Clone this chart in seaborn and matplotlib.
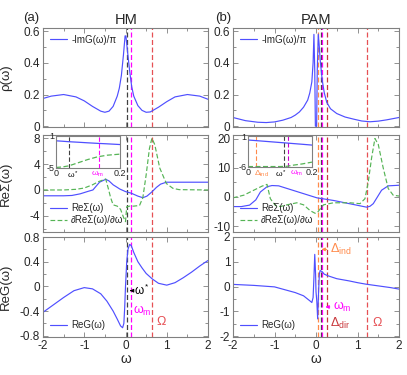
import numpy as np
import pandas as pd
import matplotlib
matplotlib.use("Agg")
import matplotlib.pyplot as plt
import seaborn as sns
from matplotlib.ticker import MultipleLocator

# ---------------- data ----------------
# HM: spectral function
hm_rho_w = [-2.0, -1.8, -1.5, -1.2, -1.0, -0.8, -0.6, -0.5, -0.4, -0.3, -0.2, -0.15, -0.1, -0.05,
            -0.01, 0.01, 0.05, 0.1, 0.15, 0.2, 0.3, 0.4, 0.5, 0.6, 0.8, 1.0, 1.2, 1.5, 1.8, 2.0]
hm_rho = [0.175, 0.19, 0.2, 0.185, 0.16, 0.125, 0.095, 0.088, 0.095, 0.125, 0.19, 0.24, 0.32, 0.45,
          0.57, 0.57, 0.47, 0.35, 0.25, 0.19, 0.13, 0.10, 0.088, 0.09, 0.12, 0.155, 0.185, 0.2, 0.19, 0.17]

# PAM: spectral function
pam_rho_w = [-2.0, -1.7, -1.4, -1.2, -1.0, -0.8, -0.6, -0.5, -0.4, -0.3, -0.2, -0.15, -0.1, -0.07,
             -0.05, -0.03, -0.015, 0.015, 0.03, 0.055, 0.08, 0.1, 0.15, 0.2, 0.26, 0.35, 0.5, 0.7,
             0.9, 1.1, 1.3, 1.5, 1.7, 2.0]
pam_rho = [0.055, 0.035, 0.025, 0.023, 0.027, 0.038, 0.055, 0.07, 0.09, 0.12, 0.165, 0.21, 0.28, 0.4,
           0.58, 0.35, 0.0, 0.0, 0.35, 0.58, 0.5, 0.42, 0.29, 0.21, 0.15, 0.11, 0.08, 0.058,
           0.045, 0.033, 0.028, 0.032, 0.04, 0.055]

# HM: self energy and its derivative
hm_sig_w = [-2.0, -1.5, -1.3, -1.1, -0.9, -0.79, -0.63, -0.48, -0.4, -0.3, -0.2, -0.14, 0.0, 0.14,
            0.3, 0.42, 0.52, 0.64, 0.75, 0.85, 0.99, 1.1, 1.3, 2.0]
hm_sig = [-0.9, -0.9, -0.85, -0.6, -0.2, 0.0, 1.2, 1.65, 1.4, 0.8, 0.4, 0.15, -0.25, -0.5,
          -0.95, -1.2, -0.95, -0.3, 0.4, 0.9, 1.2, 1.2, 1.2, 1.2]
hm_dsig_w = [-2.0, -1.5, -1.2, -1.0, -0.8, -0.65, -0.48, -0.42, -0.36, -0.3, -0.2, -0.12, -0.05, 0.0,
             0.03, 0.1, 0.2, 0.34, 0.42, 0.5, 0.58, 0.64, 0.71, 0.83, 0.99, 1.15, 1.3, 2.0]
hm_dsig = [0.0, 0.0, 0.1, 0.3, 0.8, 1.3, 1.7, 0.3, -1.2, -2.3, -2.5, -3.0, -4.2, -4.9,
           -2.6, -2.5, -2.5, -2.4, -1.2, 2.3, 6.4, 8.0, 7.0, 3.4, 1.0, 0.25, 0.05, 0.0]

# PAM: self energy and its derivative
pam_sig_w = [-2.0, -1.8, -1.6, -1.45, -1.34, -1.18, -1.06, -0.9, 0.02, 0.42, 1.22, 1.3, 1.38, 1.48,
             1.58, 1.74, 2.0]
pam_sig = [-3.3, -3.3, -2.8, -1.0, 1.7, 3.5, 3.9, 3.8, -0.3, -1.2, -3.5, -3.2, -2.3, 0.0,
           2.3, 3.8, 4.0]
pam_dsig_w = [-2.0, -1.74, -1.5, -1.3, -1.18, -1.1, -0.98, -0.86, -0.7, -0.46, -0.3, -0.14, -0.02,
              0.04, 0.18, 0.42, 0.82, 1.06, 1.18, 1.26, 1.34, 1.42, 1.5, 1.62, 1.74, 1.86, 2.0]
pam_dsig = [-0.3, 0.6, 2.3, 3.7, 4.3, -0.6, -2.9, -3.3, -2.7, -2.0, -2.7, -4.7, -5.6,
            -5.2, -2.7, -2.0, -2.0, -2.3, -0.6, 5.2, 13.4, 20.0, 18.0, 9.9, 2.9, 0.6, 0.3]

# HM: real part of Green function
hm_reg_w = [-2.0, -1.75, -1.5, -1.25, -1.0, -0.8, -0.6, -0.45, -0.3, -0.2, -0.12, -0.07, -0.04,
            -0.02, 0.0, 0.03, 0.06, 0.1, 0.14, 0.2, 0.3, 0.4, 0.5, 0.65, 0.8, 1.0, 1.2, 1.4, 1.6, 1.8, 2.0]
hm_reg = [-0.42, -0.3, -0.18, -0.07, -0.02, -0.04, -0.12, -0.24, -0.4, -0.53, -0.64, -0.67, -0.6,
          -0.35, 0.0, 0.4, 0.6, 0.68, 0.66, 0.55, 0.4, 0.3, 0.21, 0.12, 0.05, 0.02, 0.06, 0.14, 0.23, 0.33, 0.42]

# PAM: real part of Green function
pam_reg_w = [-2.0, -1.5, -1.0, -0.5, -0.3, -0.15, -0.1, -0.07, -0.05, -0.03, -0.01, 0.0, 0.02,
             0.04, 0.06, 0.08, 0.1, 0.15, 0.2, 0.3, 0.5, 0.8, 1.0, 1.2, 1.5, 1.8, 2.0]
pam_reg = [0.09, 0.05, -0.01, -0.24, -0.37, -0.57, -0.64, -0.44, 0.36, 1.3, 0.5, -0.2, -0.6,
           -1.3, -0.3, 0.5, 0.65, 0.6, 0.5, 0.43, 0.32, 0.23, 0.16, 0.1, 0.03, -0.04, -0.1]

# insets (0 <= w <= 0.2)
hm_in_w = [0.0, 0.02, 0.04, 0.07, 0.1, 0.13, 0.16, 0.2]
hm_in_sig = [0.1, 0.02, -0.07, -0.17, -0.28, -0.38, -0.47, -0.6]
hm_in_dsig = [-4.9, -4.8, -4.6, -4.0, -3.4, -2.9, -2.6, -2.4]
pam_in_w = [0.0, 0.03, 0.06, 0.1, 0.12, 0.14, 0.17, 0.2]
pam_in_sig = [0.1, -0.07, -0.24, -0.47, -0.58, -0.7, -0.87, -1.05]
pam_in_dsig = [-5.9, -5.9, -5.9, -5.9, -5.85, -5.6, -5.3, -4.9]

# characteristic energies
hm_wstar, hm_wm, hm_Omega = 0.04, 0.135, 0.64
pam_dind, pam_wstar, pam_wm, pam_ddir, pam_Omega = 0.045, 0.11, 0.14, 0.26, 1.24
pam_in_dind, pam_in_wstar, pam_in_wm = 0.026, 0.112, 0.125

# tick labels
x_ticks = [-2, -1, 0, 1, 2]
x_ticklabels = ["-2", "-1", "0", "1", "2"]
rho_ticks = [0, 0.2, 0.4, 0.6]
rho_ticklabels = ["0", "0.2", "0.4", "0.6"]
hm_sig_ticks = [-4, 0, 4, 8]
pam_sig_ticks = [-10, 0, 10, 20]
hm_reg_ticks = [-0.8, -0.4, 0, 0.4, 0.8]
hm_reg_ticklabels = ["-0.8", "-0.4", "0", "0.4", "0.8"]
pam_reg_ticks = [-2, -1, 0, 1, 2]

# ---------------- style ----------------
sns.set_theme(style="ticks")
plt.rcParams['font.family'] = ['Liberation Sans', 'DejaVu Sans']
plt.rcParams['mathtext.default'] = 'regular'

BLUE = "#4f4fff"
GREEN = "#55b455"
RED = "#e65055"
DRED = "#c8363a"
MAG = "#ff00ff"
ORANGE = "#ff8a4a"
GRAY = "#808080"
DASH = (0, (4, 2))

fig = plt.figure(figsize=(4.07, 3.75), dpi=100)
L = [43 / 407, 233 / 407]
W = [165 / 407, 166 / 407]
rows = [(1 - 127 / 375, 99 / 375), (1 - 232 / 375, 97 / 375), (1 - 337 / 375, 100 / 375)]
axes = [[fig.add_axes([L[c], rows[r][0], W[c], rows[r][1]]) for c in range(2)] for r in range(3)]


def style(ax, ylim, yticks, yticklabels, yminor, xlabels, fs=8.5):
    ax.set_xlim(-2, 2)
    ax.set_ylim(*ylim)
    ax.set_xticks(x_ticks)
    ax.set_xticklabels(x_ticklabels)
    ax.xaxis.set_minor_locator(MultipleLocator(0.5))
    ax.set_yticks(yticks)
    ax.set_yticklabels(yticklabels)
    ax.yaxis.set_minor_locator(MultipleLocator(yminor))
    ax.tick_params(which='both', direction='in', top=True, right=True, color=GRAY,
                   width=0.6, labelsize=fs, pad=2)
    ax.tick_params(which='major', length=3.5)
    ax.tick_params(which='minor', length=2)
    for s in ax.spines.values():
        s.set_color(GRAY)
        s.set_linewidth(0.8)
    if not xlabels:
        ax.tick_params(labelbottom=False)
    else:
        ax.set_xlabel("ω", fontsize=10, labelpad=0)


def vlines(ax, pos_cols):
    for p, c in pos_cols:
        ax.axvline(p, color=c, lw=0.9, linestyle=DASH)


hm_lines = [(hm_wstar, "#404040"), (hm_wm, MAG), (hm_Omega, RED)]
pam_lines = [(pam_dind, ORANGE), (pam_wstar, "#404040"), (pam_wm, MAG), (pam_ddir, DRED), (pam_Omega, RED)]

leg_kw = dict(frameon=False, fontsize=7, handlelength=1.8, handletextpad=0.4,
              borderaxespad=0.3, labelspacing=0.2)

# ---- row 1: rho ----
for ax, w, v, lines in [(axes[0][0], hm_rho_w, hm_rho, hm_lines),
                        (axes[0][1], pam_rho_w, pam_rho, pam_lines)]:
    vlines(ax, lines)
    sns.lineplot(x=w, y=v, ax=ax, color=BLUE, lw=0.85, sort=False, estimator=None,
                 label="-ImG(ω)/π")
    style(ax, (-0.005, 0.62), rho_ticks, rho_ticklabels, 0.1, False)
    ax.legend(loc="upper left", **leg_kw)

# ---- row 2: self energy ----
for ax, w1, v1, w2, v2, lines, yl, yt, ymn in [
        (axes[1][0], hm_sig_w, hm_sig, hm_dsig_w, hm_dsig, hm_lines, (-6.5, 8.5), hm_sig_ticks, 2),
        (axes[1][1], pam_sig_w, pam_sig, pam_dsig_w, pam_dsig, pam_lines, (-12, 21.2), pam_sig_ticks, 5)]:
    vlines(ax, lines)
    sns.lineplot(x=w1, y=v1, ax=ax, color=BLUE, lw=0.85, sort=False, estimator=None, label="ReΣ(ω)")
    sns.lineplot(x=w2, y=v2, ax=ax, color=GREEN, lw=0.85, linestyle=DASH, sort=False,
                 estimator=None, label="∂ReΣ(ω)/∂ω")
    style(ax, yl, yt, [str(t) for t in yt], ymn, False)
    ax.legend(loc="lower left", **leg_kw)

# ---- row 3: ReG ----
for ax, w, v, lines, yl, yt, ytl, ymn in [
        (axes[2][0], hm_reg_w, hm_reg, hm_lines, (-0.82, 0.8), hm_reg_ticks, hm_reg_ticklabels, 0.2),
        (axes[2][1], pam_reg_w, pam_reg, pam_lines, (-2.03, 2.0), pam_reg_ticks,
         [str(t) for t in pam_reg_ticks], 0.5)]:
    vlines(ax, lines)
    sns.lineplot(x=w, y=v, ax=ax, color=BLUE, lw=0.85, sort=False, estimator=None, label="ReG(ω)")
    style(ax, yl, yt, ytl, ymn, True)
    ax.legend(loc="lower left", **leg_kw)

# annotations, HM bottom
a = axes[2][0]
a.annotate("", xy=(hm_wstar, -0.07), xytext=(0.2, -0.07),
           arrowprops=dict(arrowstyle="-|>", color="black", lw=0.7, mutation_scale=5))
a.text(0.2, -0.07, "$\\omega^*$", fontsize=8.5, va="center", ha="left", color="black")
a.text(0.17, -0.4, "$\\omega_m$", fontsize=9, va="center", ha="left", color=MAG)
a.text(0.74, -0.58, "Ω", fontsize=9, va="center", ha="left", color=RED)

# annotations, PAM bottom
b = axes[2][1]
b.annotate("", xy=(pam_dind + 0.02, 1.5), xytext=(0.33, 1.5),
           arrowprops=dict(arrowstyle="-|>", color=ORANGE, lw=0.7, mutation_scale=5))
b.text(0.33, 1.5, "$\\Delta_{ind}$", fontsize=9, va="center", ha="left", color=ORANGE)
b.annotate("", xy=(pam_wm + 0.02, -0.82), xytext=(0.4, -0.82),
           arrowprops=dict(arrowstyle="-|>", color=MAG, lw=0.7, mutation_scale=5))
b.text(0.4, -0.82, "$\\omega_m$", fontsize=9, va="center", ha="left", color=MAG)
b.text(0.33, -1.48, "$\\Delta_{dir}$", fontsize=9, va="center", ha="left", color=DRED)
b.text(1.35, -1.48, "Ω", fontsize=9, va="center", ha="left", color=RED)

# y labels
for r, lab in enumerate(["ρ(ω)", "ReΣ(ω)", "ReG(ω)"]):
    axes[r][0].set_ylabel(lab, fontsize=9.5)
    axes[r][0].yaxis.set_label_coords(-0.19, 0.5)

# titles
fig.text(31 / 407, 1 - 18 / 375, "(a)", ha="center", va="center", fontsize=9.5)
fig.text(126 / 407, 1 - 20 / 375, "HM", ha="center", va="center", fontsize=10.5)
fig.text(223 / 407, 1 - 18 / 375, "(b)", ha="center", va="center", fontsize=9.5)
fig.text(316 / 407, 1 - 20 / 375, "PAM", ha="center", va="center", fontsize=10.5)

# ---- insets ----
ins_specs = [
    ([56 / 407, 1 - 168 / 375, 64 / 407, 32 / 375], hm_in_w, hm_in_sig, hm_in_dsig, (-5, 1),
     [(hm_wstar, "#404040"), (hm_wm, MAG)],
     [(0.053, "$\\omega^*$", "black"), (0.13, "$\\omega_m$", MAG)], ["-5", "1"]),
    ([248 / 407, 1 - 167 / 375, 64 / 407, 31 / 375], pam_in_w, pam_in_sig, pam_in_dsig, (-6, 1),
     [(pam_in_dind, ORANGE), (pam_in_wstar, "#404040"), (pam_in_wm, "#cc00cc")],
     [(0.042, "$\\Delta_{ind}$", ORANGE), (0.104, "$\\omega^*$", "black"),
      (0.152, "$\\omega_m$", MAG)], ["-6", "1"]),
]
for rect, w, s1, s2, yl, lines, lbls, ytl in ins_specs:
    ia = fig.add_axes(rect)
    for p, c in lines:
        ia.axvline(p, color=c, lw=0.8, linestyle=DASH)
    sns.lineplot(x=w, y=s1, ax=ia, color=BLUE, lw=0.9, sort=False, estimator=None)
    sns.lineplot(x=w, y=s2, ax=ia, color=GREEN, lw=0.9, linestyle=DASH, sort=False, estimator=None)
    ia.set_xlim(0, 0.2)
    ia.set_ylim(*yl)
    ia.set_xticks([0, 0.2])
    ia.set_xticklabels(["0", "0.2"])
    for x, t, c in lbls:
        ia.text(x, -0.06, t, transform=ia.get_xaxis_transform(), ha="center", va="top",
                fontsize=6, color=c)
    ia.set_yticks(list(yl))
    ia.set_yticklabels(ytl)
    ia.tick_params(which='both', direction='in', length=0, labelsize=6.5, pad=1)
    for sp in ia.spines.values():
        sp.set_color(GRAY)
        sp.set_linewidth(0.8)
    ia.set_facecolor("white")

fig.savefig("out.png", dpi=100)
